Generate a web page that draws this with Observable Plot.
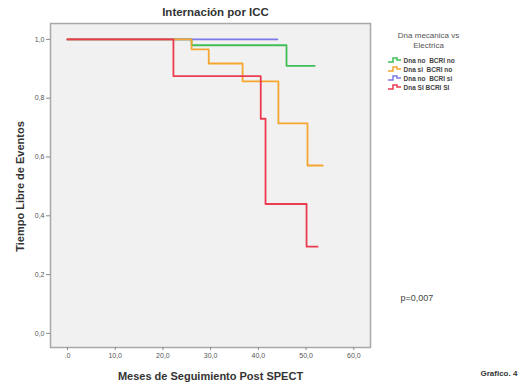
<!DOCTYPE html>
<html>
<head>
<meta charset="utf-8">
<script src="https://cdn.jsdelivr.net/npm/d3@7"></script>
<script src="https://cdn.jsdelivr.net/npm/@observablehq/plot@0.6"></script>
<style>
  html, body { margin: 0; padding: 0; background: #fff; }
  #chart svg { display: block; }
</style>
</head>
<body>
<div id="chart"></div>
<script>
// ---- data ----
const seriesNames = ["Dna no  BCRI no", "Dna si  BCRI no", "Dna no  BCRI si", "Dna SI BCRI SI"];
const seriesColors = ["#3fbf55", "#f5a630", "#7b7bea", "#ec3b50"];

const greenTimes  = [0, 26.0, 45.9, 51.8];
const greenSurv   = [1.0, 0.98, 0.91, 0.91];
const orangeTimes = [0, 26.0, 29.6, 36.7, 44.2, 50.3, 53.5];
const orangeSurv  = [1.0, 0.966, 0.918, 0.857, 0.714, 0.571, 0.571];
const blueTimes   = [0, 44.0];
const blueSurv    = [1.0, 1.0];
const redTimes    = [0, 22.2, 40.5, 41.5, 50.1, 52.4];
const redSurv     = [1.0, 0.875, 0.73, 0.44, 0.295, 0.295];

const xTicks = [0, 10, 20, 30, 40, 50, 60];
const xTickLabels = [".0", "10,0", "20,0", "30,0", "40,0", "50,0", "60,0"];
const yTicks = [0, 0.2, 0.4, 0.6, 0.8, 1.0];
const yTickLabels = ["0,0", "0,2", "0,4", "0,6", "0,8", "1,0"];

const title = "Internación por ICC";
const xLabel = "Meses de Seguimiento Post SPECT";
const yLabel = "Tiempo Libre de Eventos";
const legendTitle = ["Dna mecanica vs", "Electrica"];
const pText = "p=0,007";
const figLabel = "Grafico. 4";

// ---- build table ----
const allTimes = [greenTimes, orangeTimes, blueTimes, redTimes];
const allSurv = [greenSurv, orangeSurv, blueSurv, redSurv];
const drawOrder = [0, 2, 1, 3];
const rows = [];
for (const s of drawOrder) {
  allTimes[s].forEach((t, i) => rows.push({series: seriesNames[s], t, s: allSurv[s][i]}));
}

const font = "'Liberation Sans', Arial, sans-serif";

const legendTitleMarks = legendTitle.map((line, i) =>
  Plot.text([line], {frameAnchor: "top-right", text: d => d, dx: 58, dy: 12 + i * 10,
    textAnchor: "middle", lineAnchor: "middle", fontSize: 8, fill: "#555"}));
const legendItemMarks = seriesNames.map((name, i) =>
  Plot.text([name], {frameAnchor: "top-right", text: d => d, dx: 33, dy: 37 + i * 9,
    textAnchor: "start", lineAnchor: "middle", fontSize: 6.5, fontWeight: "bold", fill: "#444"}));

const plot = Plot.plot({
  width: 521,
  height: 384,
  marginLeft: 50,
  marginRight: 151,
  marginTop: 23,
  marginBottom: 37,
  style: {fontFamily: font, background: "#fff", overflow: "visible"},
  x: {domain: [-3.56, 63.5]},
  y: {domain: [-0.048, 1.054]},
  color: {domain: seriesNames, range: seriesColors},
  marks: [
    Plot.frame({fill: "#f1f1f1", stroke: "#a8a8a8", strokeWidth: 1.5}),
    Plot.axisX({ticks: xTicks, tickFormat: d => xTickLabels[xTicks.indexOf(d)], tickSize: 3, tickPadding: 3, fontSize: 7, fill: "#555", stroke: "#888", label: null}),
    Plot.axisY({ticks: yTicks, tickFormat: d => yTickLabels[yTicks.findIndex(v => Math.abs(v - d) < 1e-9)], tickSize: 4, tickPadding: 2, fontSize: 7, fill: "#555", stroke: "#888", label: null}),
    Plot.line(rows, {x: "t", y: "s", z: "series", stroke: "series", curve: "step-after", strokeWidth: 1.8}),
    Plot.text([title], {frameAnchor: "top", text: d => d, dx: 5, dy: -11, lineAnchor: "middle", fontSize: 11.5, fontWeight: "bold", fill: "#333"}),
    Plot.text([xLabel], {frameAnchor: "bottom", text: d => d, dx: 0, dy: 29, lineAnchor: "middle", fontSize: 11, fontWeight: "bold", fill: "#333"}),
    Plot.text([yLabel], {frameAnchor: "left", text: d => d, dx: -30, dy: 1, rotate: -90, textAnchor: "middle", lineAnchor: "middle", fontSize: 11, fontWeight: "bold", fill: "#333"}),
    ...legendTitleMarks,
    ...legendItemMarks,
    Plot.text([pText], {frameAnchor: "bottom-right", text: d => d, dx: 30, dy: -49, textAnchor: "start", lineAnchor: "middle", fontSize: 9, fill: "#444"}),
    Plot.text([figLabel], {frameAnchor: "bottom-right", text: d => d, dx: 110, dy: 26, textAnchor: "start", lineAnchor: "middle", fontSize: 8, fontWeight: "bold", fill: "#333"})
  ]
});

// legend step icons
const svg = d3.select(plot);
const iconX = 370 + 18;
seriesNames.forEach((name, i) => {
  const cy = 23 + 37 + i * 9;
  svg.append("path")
    .attr("d", `M${iconX},${cy + 2}h5v-4h4v2h4`)
    .attr("fill", "none")
    .attr("stroke", seriesColors[i])
    .attr("stroke-width", 1.5);
});

document.getElementById("chart").appendChild(plot);
</script>
</body>
</html>
